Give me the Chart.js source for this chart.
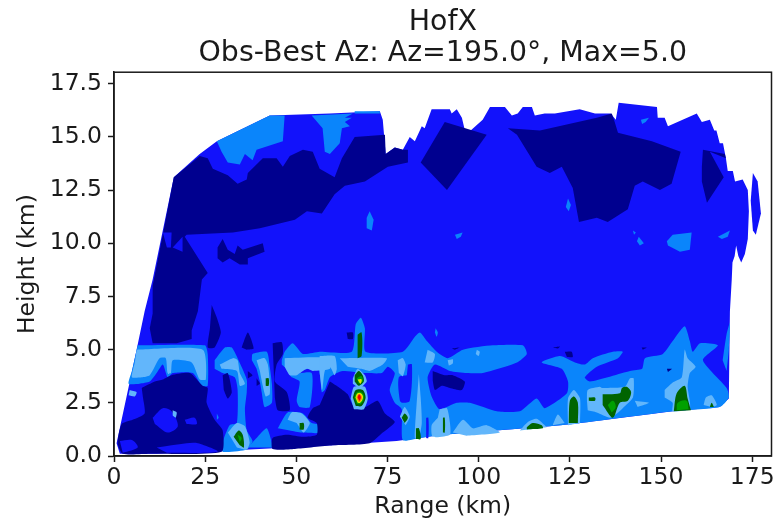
<!DOCTYPE html>
<html>
<head>
<meta charset="utf-8">
<title>HofX</title>
<style>
  html, body { margin: 0; background: #fff; }
  canvas { display: block; filter: blur(0.5px); }
</style>
<script src="https://cdn.jsdelivr.net/npm/chart.js@4"></script>
</head>
<body>
<canvas id="chart" width="774" height="522"></canvas>
<script>
/* =========================
   DATA: contour outlines, [range km, height km]
========================== */
const xTicks = [0, 25, 50, 75, 100, 125, 150, 175];
const yTicks = [0, 2.5, 5, 7.5, 10, 12.5, 15, 17.5];

const coverage = [[0.7,0.6],[6.2,5],[8.4,6.8],[10.6,8.3],[16.4,13.1],[23.5,14.2],[28.2,14.8],[42.7,16],[59.2,16.1],[72.9,16.2],[73.7,15.8],[74.5,14.2],[77,14.5],[79.2,14.4],[81.1,15],[82.5,14.8],[84.4,15.5],[85.2,15.4],[87.1,16.3],[92.1,16.3],[92.6,16.1],[94,16.3],[95.4,15.9],[96.5,15.1],[101.1,15.8],[103.1,16.4],[107.2,16.4],[109.1,16],[110.7,16.1],[112.1,16.4],[114.6,16.4],[115.4,16],[118.1,16.1],[120.9,16.1],[127.7,16.3],[131.9,16.1],[136.2,16.1],[137.6,15.8],[138.4,16.6],[148.9,16.4],[149.1,15.9],[151,15.9],[151.9,15.5],[159.8,16.1],[161.2,15.7],[163.4,15.8],[164.6,15.3],[165.2,15.3],[166.1,14.7],[167,14.7],[167.8,14],[168.3,13.4],[169.7,13.4],[170.3,12.9],[172.4,13],[173.8,12.5],[174.1,11.5],[173.8,10.2],[173,9.5],[172,9.1],[171.2,9.4],[170.6,9.9],[170.2,9.4],[169.6,9.1],[169.4,8.3],[168.9,6.8],[168.6,2.7],[166.1,2.3],[153.2,2.1],[125.8,1.5],[119.5,1.4],[90.2,1],[77.5,0.7],[60,0.5],[37.2,0.3],[11.7,0.1],[1.6,0.1]];
const coverageLobe = [[175.2,13.3],[176.5,12.9],[177.4,11.4],[176,10.4],[175.2,10.6],[174.6,12]];

const darkRegions = [
  [[16.4,13.1],[23.5,14.1],[25.7,14],[27.1,13.5],[31.2,13.2],[33.9,12.8],[36.4,13],[36.7,13.3],[40.8,14],[44.6,14],[46.3,13.6],[48.2,14.1],[51.8,14.4],[54.5,14.3],[56.4,13.5],[60.5,13.1],[62.5,14],[66,15],[74.3,15.1],[74.5,14.2],[77,14.5],[79.2,14.4],[80.6,14.4],[80.6,13.8],[75.1,13.6],[68.8,12.9],[63.3,12.7],[60.5,12.3],[57,11.4],[52.9,11.5],[49.6,11.1],[40,10.7],[32.6,10.5],[19.9,10.4],[19.4,10.3],[25.7,8.6],[24.1,8.3],[23,6.8],[21.3,5.9],[21.3,5.5],[17.2,5.3],[10.6,5.3],[9.8,6],[10.6,6.7],[10.6,8],[13.6,10.6]],
  [[28.4,9.8],[29.8,10.2],[31.2,9.7],[33.1,9.5],[33.9,9.9],[35.3,9.7],[40.8,10],[41.3,9.6],[36.7,9.3],[36.7,9],[34.5,9],[31.7,9.3],[29.8,9.1],[28.4,9.3]],
  [[90.7,15.7],[102.2,15.1],[91.3,12.5],[84.1,13.8]],
  [[108,15.4],[116.8,15.3],[132.4,15.9],[136.5,16.1],[137.3,15.7],[138.2,15.2],[147.5,14.8],[155.4,14.3],[152.9,12.8],[149.7,12.5],[145,12.9],[142.8,12.7],[140.9,11.6],[135.4,11],[132.4,11.2],[127.5,11],[125.8,12.6],[122.8,13.6],[119.5,13.3],[115.9,13.6],[110.5,15.1]],
  [[161.5,14.4],[167.5,14.2],[167.8,14],[163.4,14.3],[167.2,13.1],[162.6,11.9],[161.2,12.9],[161.2,13.6]]
];
const mainWedges = [
  [[13.4,10.5],[15.8,10.5],[15.6,9.8],[14.5,9.8]],
  [[16.1,9.8],[18.8,10.3],[18.8,9.6]]
];
const upperMid = [
  [[28.2,14.8],[42.7,16],[46.8,16],[46.3,14.8],[39.1,14.4],[38,13.9],[35.9,14.2],[34.5,13.7],[31.2,13.8],[29.5,14.3]],
  [[54.2,16],[65.5,16.1],[63.3,15.9],[65.2,15.9],[63.3,15.7],[64.7,15.5],[62.5,15.4],[61.9,14.7],[59.2,14.2],[57.8,14.3],[57.2,15.4]],
  [[66,16.2],[72.9,16.2],[72.9,16.1],[66,16.1]],
  [[70.1,11.5],[71.2,11.1],[70.7,10.6],[69.3,10.7],[69.3,11.2]],
  [[93.5,10.4],[95.6,10.5],[95.1,10.3],[94,10.2]],
  [[144.5,15.8],[146.7,15.9],[145.8,15.7],[144.8,15.6]],
  [[124.5,12.1],[125.3,11.8],[124.7,11.5],[123.9,11.7]],
  [[142.3,10.6],[143.1,10.5],[142.6,10.4]],
  [[143.9,10.3],[145.3,10],[144.2,9.9],[143.4,10.1]],
  [[151.6,10.1],[153.2,10.4],[158.4,10.5],[157.9,9.7],[155.2,9.6],[151.9,9.9]],
  [[165.6,10.3],[168.9,10.6],[168.3,10.3],[166.7,10.2]]
];

const lowMid = [
  [[6.5,5.2],[24.9,5.2],[25.7,4.8],[25.7,3.3],[24.1,3.3],[21.6,3.9],[16.1,3.9],[14.7,3.7],[13.4,4.3],[11.7,3.9],[9.8,3.5],[7,3.4],[4,3.4],[4.9,4]],
  [[27.6,4.5],[30.4,5.1],[32.3,5.1],[33.9,4.6],[36.4,3.6],[36.4,3],[35.9,2.2],[36.4,1.2],[38,0.7],[36.4,0.3],[29.8,0.2],[29.8,0.65],[31.7,1.45],[33.7,1.55],[33.9,3.1],[33.1,3.7],[29.8,3.9],[27.6,4.1]],
  [[37.8,4.5],[38,4.8],[41.9,4.9],[42.7,4.2],[43.3,3.4],[43.3,2.5],[41.3,2.3],[40.5,3],[40,3.5],[39.1,4.1]],
  [[36.7,0.4],[39.1,0.85],[41.9,1.3],[43.3,0.6],[43.3,0.4]],
  [[46,4.5],[46.8,4.9],[49,5.3],[51.8,4.8],[56.4,4.9],[65.2,4.9],[66.3,6.2],[67.7,6.5],[68.8,6],[69,4.9],[79.2,4.9],[82.5,5.6],[83.9,5.8],[85.8,5.4],[88.5,4.9],[91.5,4.6],[95.7,5],[103.9,5.2],[112.1,5.2],[113.2,4.8],[110.5,4.4],[101.1,3.9],[96.7,3.9],[92.1,4],[88,4.3],[86,3.7],[87.1,2.8],[89.3,2.2],[94,2.5],[97.6,2.5],[105,2.1],[111.3,2.1],[115.9,2.7],[118.1,2.25],[124.2,2.95],[124.5,3.5],[122.8,4.1],[117.3,4.4],[122.3,4.7],[126.4,4.4],[129.1,4.3],[131.3,4.6],[136.8,4.9],[139.5,4.9],[138.2,4.6],[132.4,4.2],[129.1,3.7],[130.5,3.5],[141.5,4],[144.8,4.1],[145.6,4.6],[150.5,4.8],[153.2,5.4],[156.5,6.1],[157.9,5.4],[158.7,4.9],[160.7,5.3],[165.6,5.2],[161.5,4.5],[168,3.2],[168.6,2.75],[166.1,2.3],[153.2,2.1],[125.8,1.5],[119.5,1.4],[90.2,1],[83.9,0.85],[79.2,0.75],[78.9,2.2],[77,2.5],[75.6,3.1],[77,3.9],[75.1,4.2],[73.4,3.9],[69.3,3.9],[62.7,4],[61.1,3.9],[59.2,3.7],[57.8,3.1],[57,3],[55.9,4.1],[48.2,4],[46,4.3]],
  [[48.2,3.8],[54.2,3.9],[53.7,2.3],[50.9,2.3],[50.1,2.6],[50.9,3.5],[48.7,3.7]],
  [[44.9,1.3],[47.6,2.05],[51.8,2],[54.2,1.55],[57,1.45],[57,1.1],[51.5,1.1],[48.2,1.2]],
  [[28.2,2],[28.7,1.8],[28.2,1.7]],
  [[88.2,6],[88.8,5.8],[88.5,5.6],[88,5.8]],
  [[23,0.5],[27.6,0.4],[28.2,0.2],[23.5,0.3]],
  [[166.9,4.5],[168,5.75],[168.9,6.25],[168.6,5],[168,4]]
];
const lowDark = [
  [[7.6,3.2],[11.2,3.5],[13.4,3.6],[15.8,3.8],[20.8,3.9],[24.3,3.3],[25.7,3.2],[25.4,2.5],[27.6,1.7],[29.8,1.2],[29.5,0.2],[9.8,0.1],[2.4,0.1],[1,0.6],[2.1,1.5],[5.1,1.7],[8.4,2],[7.9,2.8]],
  [[59.2,3.5],[61.9,3.2],[64.1,2.9],[65.5,2.4],[68.8,2.3],[72.3,2.6],[74.3,2],[77,1.6],[73.7,1.1],[70.1,0.6],[60,0.5],[49.6,0.33],[43.5,0.33],[43.5,0.85],[47.4,1],[51.8,0.9],[55.6,1],[55.6,1.55],[53.1,1.8],[54.5,2.25],[56.4,2.4]],
  [[43.5,5.3],[46,5.35],[46.3,4.8],[44.6,4.3],[44.1,3.5],[47.4,3],[48.2,2.15],[44.9,2.15],[44.1,2.75]],
  [[35,5.1],[36.7,5.8],[38.3,5.05],[36.4,5]],
  [[26.8,7.1],[28.2,6.5],[29.3,5.8],[27.6,5.1],[25.7,5.1],[26.3,6]],
  [[29.8,3.8],[31.2,3.9],[32.3,3],[31.2,2.7],[30.1,3.1]],
  [[36.7,4],[38,3.8],[36.7,3.65]],
  [[39.1,3.65],[40,3.4],[39.1,3.3]],
  [[87.4,4],[90.7,3.8],[92.9,3.8],[96.2,3.5],[95.4,3.1],[92.1,3.2],[89.9,3.3],[88,3.1],[87.4,3.55]],
  [[123.6,4.9],[125.5,4.9],[125.8,4.65],[124.2,4.65]],
  [[120.3,5.1],[122.3,5.15],[121.7,5.05]],
  [[144.7,5.1],[146.1,5.1],[145,5]],
  [[151.6,4.1],[153,4.1],[151.9,3.95]],
  [[92.6,5.05],[94.8,5.1],[93.5,5]],
  [[63.8,5.8],[65.5,5.8],[65.5,5.5],[64.1,5.5]]
];
const lowMain = [
  [[10.6,1.8],[13.4,2.25],[15.8,2.1],[17.5,1.4],[14.7,1.1],[11.2,1.5]],
  [[19.4,1.7],[22.1,1.8],[22.7,1.5],[19.9,1.5]],
  [[1.6,0.7],[4.9,0.75],[6.5,0.4],[2.4,0.15]],
  [[11.7,0.4],[19.9,0.6],[23,0.6],[28.4,0.2],[14.5,0.15]],
  [[80.6,4.3],[81.7,4.3],[81.1,2.6],[79.2,2.5],[78.4,2.6],[78.1,3.7],[80.3,3.8]],
  [[85.6,1.8],[86.2,1.8],[86.2,0.85],[85.6,0.85]]
];
const lowLight = [
  [[6.2,5],[24.3,5],[25.2,3.6],[23.5,3.6],[21.3,4.4],[16.1,4.5],[15.6,3.9],[14.7,3.9],[14.2,4.6],[12.5,4.6],[9.8,3.8],[7.6,3.7],[4.9,3.7],[5.7,4.4]],
  [[29,4.3],[32.6,4.6],[33.9,4.5],[34.5,3.9],[35.9,3.4],[34.5,3.3],[33.7,4],[29.5,4.1]],
  [[31.2,1.1],[33.7,1.55],[35.9,1.4],[37.2,0.65],[36.4,0.3],[33.7,0.4]],
  [[39.1,4.5],[41.3,4.6],[42.2,4.3],[42.7,3.5],[42.7,2.9],[41.6,2.8],[40.8,3.3],[40,4]],
  [[4.3,3.1],[6.2,3],[5.7,2.8],[4,2.85]],
  [[16.1,2.15],[17.2,2.05],[16.9,1.8],[16.1,1.9]],
  [[46.8,4.6],[59.2,4.6],[59.2,4.1],[54.5,4],[52.9,4.1],[50.1,3.8],[48.2,3.8],[46.8,4.2]],
  [[56.4,4.7],[60.5,4.7],[61.1,4.1],[60.5,3.8],[59.2,4.2],[57.8,4],[57.2,3.2],[57,3.1],[56.4,3.9]],
  [[61.9,4.6],[74.8,4.6],[73.7,4.3],[70.1,4],[67.9,4.1],[64.1,4.2]],
  [[47.6,1.7],[48.7,2.05],[51.5,2],[53.7,1.55],[52,1.1],[50.1,1.55]],
  [[65.5,3.65],[66.8,4.1],[68.8,3.8],[69.3,3.5],[67.4,3.2],[65.5,3.4]],
  [[64.9,2.7],[65.8,3.25],[68.8,3.25],[69.6,2.7],[68.5,2.2],[65.8,2.2]],
  [[77.8,4.5],[79.2,4.6],[80,4.3],[79.2,3.75],[78.1,3.9]],
  [[83.6,3.85],[84.1,2.75],[84.4,1.55],[83.6,0.85],[82.5,0.85],[83,2.5]],
  [[78.4,1.85],[79.7,2.3],[81.1,1.85],[80,1.45]],
  [[86,5],[88,4.8],[87.4,4.4],[85.2,4.4]],
  [[91.5,4.5],[92.9,4.55],[92.9,4.35],[91.8,4.25]],
  [[99.5,5],[100.3,4.9],[100,4.7],[99.2,4.8]],
  [[89.3,2.2],[91.3,2.25],[92.1,1.6],[92.1,1],[87.4,0.9],[87.1,1.45],[88.8,1.8]],
  [[92.9,1.1],[95.7,1.7],[98.4,1.3],[102.2,1.45],[105.8,1.1],[96.7,0.95]],
  [[111.3,1.2],[113.5,1.6],[115.9,1.75],[118.1,1.45],[118.7,1.35]],
  [[120.3,1.45],[121.7,1.95],[123.6,1.55]],
  [[124.5,1.45],[124.5,2.7],[126.1,3.1],[127.8,2.7],[127.8,1.55]],
  [[129.7,2.6],[129.9,3.1],[133.2,3.25],[133.8,3.2],[140.1,3.25],[141.5,3.65],[142.5,3.65],[142.3,2.75],[139.5,2.25],[137.9,2],[136,1.8],[132.4,2.05],[129.9,2.15]],
  [[142.8,2.6],[146.7,2.5],[143.6,2.3]],
  [[151,3.1],[153.2,3.45],[155.7,3.7],[156.5,5],[157.3,4.6],[159.5,4.2],[157.9,3.9],[157.3,3.25],[157.9,2.25],[153.2,2.1],[153.2,2.5],[151,2.75]],
  [[161.7,2.4],[162.3,2.75],[163.9,2.85],[165.3,2.4],[163.9,2.3]]
];
const darkGreen = [
  [[32.8,0.9],[34.2,1.2],[35.3,1],[35.6,0.4],[34.5,0.5]],
  [[41.6,3.65],[42.4,3.65],[42.4,3.3],[41.6,3.3]],
  [[50.9,1.55],[52,1.55],[52,1.25],[50.9,1.25]],
  [[66.8,5.7],[67.9,5.8],[67.9,4.7],[66.8,4.6]],
  [[66,3.8],[67.1,4],[68.2,3.8],[68.5,3.5],[67.1,3.3],[66,3.5]],
  [[65.5,2.75],[66.3,3.1],[68.2,3.1],[69,2.75],[67.9,2.35],[66.3,2.35]],
  [[82.8,1.3],[83.6,1.3],[84.1,0.8],[82.8,0.8]],
  [[78.9,1.8],[79.7,2],[80.6,1.8],[79.7,1.55]],
  [[90.2,1.8],[90.7,1.8],[90.7,1.1],[90.2,1.1]],
  [[113.2,1.35],[114.8,1.55],[117.3,1.45],[117.6,1.3],[113.2,1.25]],
  [[124.7,1.55],[125,2.6],[126.1,2.8],[127.2,2.5],[127.2,1.55]],
  [[134,2.9],[138.7,2.95],[139.3,3.2],[140.6,3.25],[141.8,3],[140.9,2.6],[138.7,2.5],[136.8,1.8],[134,2.4]],
  [[130.2,2.75],[131.9,2.75],[131.9,2.6],[130.2,2.6]],
  [[153.5,2.1],[154.3,2.95],[156.5,3.3],[157.3,2.7],[158.2,2.15]],
  [[163.4,2.3],[163.9,2.5],[164.5,2.3]]
];
const green = [
  [[33.9,1],[35,0.85],[34.5,0.65]],
  [[66.6,3.65],[67.9,3.75],[68.2,3.5],[67.1,3.4]],
  [[65.9,2.75],[66.6,3],[67.9,3],[68.6,2.75],[67.7,2.45],[66.6,2.45]],
  [[135.4,2.4],[136.8,2.6],[137.6,2.3],[136.5,2.05]],
  [[154.3,2.15],[154.6,2.5],[157,2.6],[157.6,2.2]]
];
const yellow = [
  [[66.8,3.6],[67.9,3.6],[67.6,3.4],[67.1,3.5]],
  [[66.2,2.75],[66.8,2.95],[67.7,2.95],[68.3,2.75],[67.5,2.5],[66.8,2.5]]
];
const orange = [
  [[66.5,2.75],[67,2.9],[67.5,2.9],[68,2.75],[67.4,2.55],[67,2.55]]
];
const red = [
  [[66.8,2.75],[67.1,2.88],[67.4,2.88],[67.7,2.75],[67.3,2.58]]
];

/* =========================
   COLOURS
========================== */
const cMain = "#1212fb";
const cDark = "#00008f";
const cMid = "#0a85fb";
const cLight = "#62b6fb";
const cDarkGreen = "#006400";
const cGreen = "#00a000";

// painted bottom to top, last value is the curve tension
const layers = [
  [[coverage, coverageLobe], cMain, 0],
  [darkRegions, cDark, 0],
  [mainWedges, cMain, 0],
  [upperMid, cMid, 0],
  [lowMid, cMid, 0.2],
  [lowDark, cDark, 0.2],
  [lowMain, cMain, 0.3],
  [lowLight, cLight, 0.2],
  [darkGreen, cDarkGreen, 0.3],
  [green, cGreen, 0.4],
  [yellow, "#e6e600", 0.4],
  [orange, "#ff8c00", 0.4],
  [red, "#f00000", 0.4]
];

const datasets = [];
layers.forEach(([polys, color, tension]) => {
  polys.forEach(poly => {
    datasets.push({
      data: poly.map(p => ({ x: p[0], y: p[1] })),
      showLine: true,
      fill: "shape",
      backgroundColor: color,
      borderColor: color,
      borderWidth: 0,
      pointRadius: 0,
      tension
    });
  });
});
// chart.js paints the first dataset last
datasets.reverse();

/* =========================
   CHART
========================== */
const inkColor = "#1a1a1a";
const tickFont = { family: "DejaVu Sans", size: 23.5 };

const frame = {
  id: "frame",
  afterDraw(chart) {
    const a = chart.chartArea;
    const c = chart.ctx;
    c.save();
    c.strokeStyle = inkColor;
    c.lineWidth = 1.5;
    c.strokeRect(a.left, a.top, a.right - a.left, a.bottom - a.top);
    c.restore();
  }
};

new Chart(document.getElementById("chart"), {
  type: "scatter",
  data: { datasets },
  plugins: [frame],
  options: {
    responsive: false,
    animation: false,
    layout: { padding: { right: 2.5, left: 0, top: 0, bottom: 0 } },
    plugins: {
      legend: { display: false },
      tooltip: { enabled: false },
      title: {
        display: true,
        fullSize: false,
        text: ["HofX", "Obs-Best Az: Az=195.0°, Max=5.0"],
        color: inkColor,
        font: { family: "DejaVu Sans", size: 28.4, weight: "normal", lineHeight: 1.06 },
        padding: { top: 8, bottom: 4 }
      }
    },
    scales: {
      x: {
        type: "linear",
        min: 0,
        max: 180.3,
        afterFit(s) { s.height = 66; s.paddingRight = 0; s.paddingLeft = 0; },
        afterBuildTicks(s) { s.ticks = xTicks.map(v => ({ value: v })); },
        border: { color: inkColor, width: 1.5 },
        grid: { drawOnChartArea: false, tickLength: 6, tickColor: inkColor, tickWidth: 1.5 },
        ticks: { color: inkColor, font: tickFont, padding: 2, maxRotation: 0 },
        title: { display: true, text: "Range (km)", color: inkColor, font: tickFont, padding: { top: 2, bottom: 1 } }
      },
      y: {
        type: "linear",
        min: 0,
        max: 18.04,
        afterFit(s) { s.width = 114; s.paddingTop = 0; s.paddingBottom = 0; },
        afterBuildTicks(s) { s.ticks = yTicks.map(v => ({ value: v })); },
        border: { color: inkColor, width: 1.5 },
        grid: { drawOnChartArea: false, tickLength: 6, tickColor: inkColor, tickWidth: 1.5 },
        ticks: { color: inkColor, font: tickFont, padding: 6, callback: v => v.toFixed(1) },
        title: { display: true, text: "Height (km)", color: inkColor, font: tickFont, padding: { top: 14, bottom: 0 } }
      }
    }
  }
});
</script>
</body>
</html>
